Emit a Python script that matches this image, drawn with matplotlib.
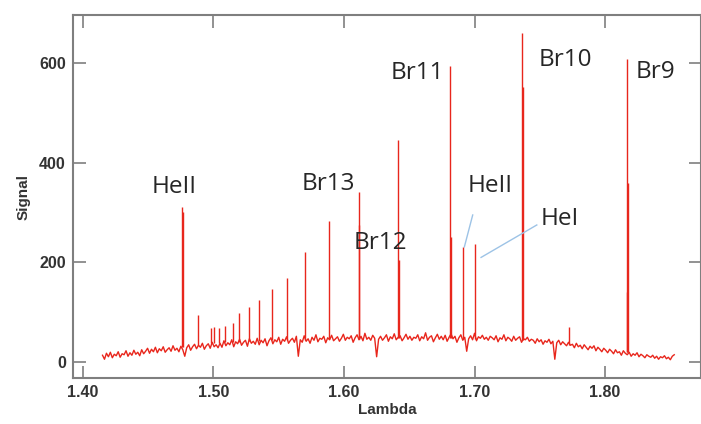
import numpy as np
import matplotlib
matplotlib.use("Agg")
import matplotlib.pyplot as plt

# Continuum (hand, one value every ~0.0015 um)
baseline = [
    14, 6, 18, 11, 20, 9, 16, 13, 21, 10, 17, 15, 23, 12, 19, 14, 24, 16, 20, 13,
    25, 17, 22, 28, 18, 26, 21, 30, 19, 27, 23, 31, 20, 25, 29, 22, 33, 24, 28, 21,
    32, 25, 12, 29, 35, 24, 31, 36, 27, 34, 30, 38, 26, 33, 37, 28, 40, 31, 35, 29,
    38, 30, 43, 33, 39, 35, 45, 31, 41, 37, 46, 34, 40, 44, 32, 47, 38, 42, 36, 48,
    35, 44, 39, 47, 33, 43, 49, 37, 45, 41, 50, 36, 46, 42, 51, 38, 44, 48, 40, 52,
    12, 45, 40, 53, 42, 47, 38, 50, 44, 55, 41, 48, 46, 52, 39, 49, 45, 54, 43, 47,
    51, 42, 48, 56, 44, 50, 47, 53, 40, 49, 55, 45, 52, 43, 58, 46, 50, 44, 54, 48,
    11, 46, 52, 44, 49, 55, 42, 51, 47, 57, 45, 50, 53, 43, 49, 56, 46, 52, 44, 50,
    48, 55, 43, 51, 47, 59, 44, 50, 53, 41, 49, 56, 46, 52, 45, 54, 42, 50, 57, 47,
    52, 40, 49, 55, 44, 50, 22, 47, 53, 45, 58, 43, 51, 48, 54, 46, 50, 44, 52, 49,
    45, 53, 41, 49, 46, 55, 43, 50, 47, 42, 52, 44, 48, 51, 40, 47, 45, 50, 42, 46,
    44, 38, 47, 41, 45, 36, 43, 40, 46, 37, 42, 6, 39, 44, 35, 41, 37, 33, 40, 34,
    36, 29, 38, 31, 34, 27, 35, 30, 25, 32, 28, 33, 23, 30, 26, 21, 28, 24, 19, 26,
    22, 17, 25, 19, 21, 14, 23, 18, 15, 20, 12, 17, 14, 19, 11, 16, 13, 9, 15, 12,
    10, 14, 8, 12, 6, 11, 9, 13, 7, 10, 5, 12, 15,
]
lam_start, lam_end = 1.415, 1.853  # sampling range of the spectrum

# Emission lines
peak_lam = [1.4759, 1.4765, 1.4884, 1.4978, 1.5004, 1.5044, 1.5088, 1.5147,
            1.5198, 1.5270, 1.5346, 1.5446, 1.5561, 1.5701, 1.5885,
            1.6113, 1.6118, 1.6414, 1.6419, 1.6812, 1.6817, 1.6915, 1.7004,
            1.7366, 1.7371, 1.7726, 1.8166, 1.8171, 1.8176]
peak_sig = [311, 300, 94, 68, 70, 68, 72, 78,
            98, 110, 124, 146, 169, 221, 283,
            341, 275, 446, 205, 594, 250, 231, 237,
            660, 552, 70, 140, 608, 360]
peak_floor = [30, 30, 35, 38, 38, 38, 40, 40,
              40, 42, 42, 44, 45, 45, 46,
              47, 47, 48, 48, 48, 48, 46, 46,
              45, 45, 35, 20, 20, 20]

# Annotations
labels = ["HeII", "Br13", "Br12", "Br11", "Br10", "Br9", "HeII", "HeI"]
label_lam = [1.4697, 1.5877, 1.6276, 1.6559, 1.7693, 1.8383, 1.7119, 1.7655]
label_sig = [351, 357, 239, 580, 606, 582, 353, 287]
pointers = [((1.6986, 295), (1.6922, 231)), ((1.7477, 275), (1.7050, 210))]

red = "#e8261c"
grey = "#7f7f7f"

fig = plt.figure(figsize=(7.01, 4.24), dpi=100)
ax = fig.add_axes([0.104, 0.108, 0.896, 0.857])

lam = np.linspace(lam_start, lam_end, len(baseline))
ax.plot(lam, baseline, color=red, lw=1.0)
ax.vlines(peak_lam, peak_floor, peak_sig, color=red, lw=1.0)

for t, x, y in zip(labels, label_lam, label_sig):
    ax.text(x, y, t, ha="center", va="center", fontsize=17.5,
            family="Open Sans", color="#262626")
for (x0, y0), (x1, y1) in pointers:
    ax.plot([x0, x1], [y0, y1], color="#9dc3e6", lw=1.0)

ax.set_xlim(1.3923, 1.8735)
ax.set_ylim(-32, 696)
ax.set_xticks([1.40, 1.50, 1.60, 1.70, 1.80])
ax.set_xticklabels(["1.40", "1.50", "1.60", "1.70", "1.80"])
ax.set_yticks([0, 200, 400, 600])

for s in ax.spines.values():
    s.set_color(grey)
    s.set_linewidth(1.5)
ax.tick_params(direction="in", length=9, width=1.2, color=grey,
               top=True, right=True, labelsize=11.5, pad=5)
for lab in ax.get_xticklabels() + ax.get_yticklabels():
    lab.set_fontweight("bold")
    lab.set_family("Liberation Sans")
    lab.set_color("#333333")

ax.set_xlabel("Lambda", fontsize=11, fontweight="bold", family="Liberation Sans",
              color="#333333", labelpad=2)
ax.set_ylabel("Signal", fontsize=11, fontweight="bold", family="Liberation Sans",
              color="#333333", labelpad=6)

fig.savefig("out.png", dpi=100)
